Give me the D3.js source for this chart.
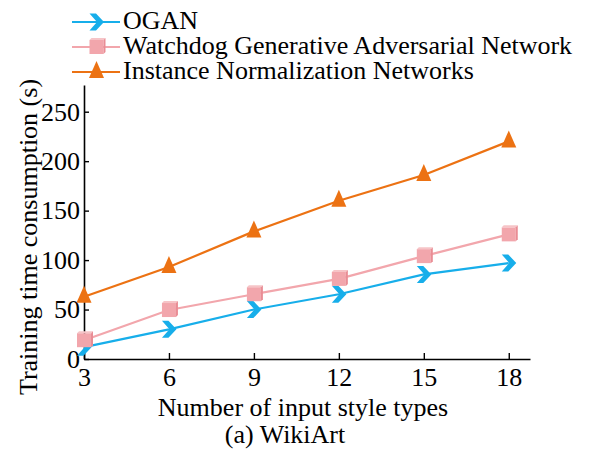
<!DOCTYPE html>
<html>
<head>
<meta charset="utf-8">
<script src="https://cdn.jsdelivr.net/npm/d3@7"></script>
<style>
  html, body { margin: 0; padding: 0; background: #fff; }
  svg { display: block; }
  text { font-family: "Liberation Serif", "Times New Roman", serif; fill: #000; }
</style>
</head>
<body>
<svg id="chart" width="590" height="455"></svg>
<script>
// Number of input style types
const styleTypes = [3, 6, 9, 12, 15, 18];

// Training time (s) per method
const oganTime      = [12, 30, 50, 65.5, 85.5, 97];
const watchdogTime  = [19, 49.5, 65.5, 81, 104, 126];
const instNormTime  = [63, 93, 129, 160, 186, 220];

const yTickValues = [0, 50, 100, 150, 200, 250];

const seriesNames = [
  "OGAN",
  "Watchdog Generative Adversarial Network",
  "Instance Normalization Networks"
];

const series = [
  { name: seriesNames[0], values: oganTime,     color: "#17aeea", marker: "chevron" },
  { name: seriesNames[1], values: watchdogTime, color: "#f2a6ac", marker: "square" },
  { name: seriesNames[2], values: instNormTime, color: "#ec7213", marker: "triangle" }
];

const svg = d3.select("#chart");
const FONT = 26;

const x = d3.scaleLinear().domain([3, 18.75]).range([84, 530]);
const y = d3.scaleLinear().domain([0, 277]).range([359, 85]);

// axes, ticks pointing into the plot
const xAxis = d3.axisBottom(x).tickValues(styleTypes).tickSizeInner(-6).tickSizeOuter(0).tickPadding(9);
const yAxis = d3.axisLeft(y).tickValues(yTickValues).tickSizeInner(-5).tickSizeOuter(0).tickPadding(4);

const gx = svg.append("g").attr("transform", `translate(0,${y(0)})`).call(xAxis);
const gy = svg.append("g").attr("transform", `translate(${x(3)},0)`).call(yAxis);
[gx, gy].forEach(g => {
  g.select(".domain").attr("stroke", "#000").attr("stroke-width", 1.6);
  g.selectAll(".tick line").attr("stroke", "#000").attr("stroke-width", 1.4);
  g.selectAll(".tick text").attr("font-size", FONT).attr("font-family", "Liberation Serif, Times New Roman, serif").attr("fill", "#000");
});

// marker shapes
function drawMarker(g, kind, color) {
  if (kind === "chevron") {
    g.append("path")
      .attr("d", "M-7,-8.5 L-0.5,-8.5 L7.5,0 L-0.5,8.5 L-7,8.5 L0.5,0 Z")
      .attr("fill", color);
  } else if (kind === "square") {
    g.append("rect").attr("x", -7).attr("y", -7).attr("width", 14).attr("height", 14).attr("fill", color);
    g.append("path").attr("d", "M-7,-7 L-5,-9 L9,-9 L7,-7 Z").attr("fill", "#f6c4c7");
    g.append("path").attr("d", "M7,-7 L9,-9 L9,5 L7,7 Z").attr("fill", "#e98d95");
  } else {
    g.append("path")
      .attr("d", "M0,-11 L7.5,6 L-7.5,6 Z")
      .attr("fill", color);
  }
}

const line = d3.line().x(d => x(d[0])).y(d => y(d[1]));

series.forEach(s => {
  const pts = styleTypes.map((t, i) => [t, s.values[i]]);
  svg.append("path")
    .datum(pts)
    .attr("d", line)
    .attr("fill", "none")
    .attr("stroke", s.color)
    .attr("stroke-width", 2.2);
  pts.forEach(p => {
    const g = svg.append("g").attr("transform", `translate(${x(p[0])},${y(p[1])})`);
    drawMarker(g, s.marker, s.color);
  });
});

// legend
const legendRows = [22, 47, 72];
series.forEach((s, i) => {
  const ly = legendRows[i];
  svg.append("line")
    .attr("x1", 72).attr("x2", 120).attr("y1", ly).attr("y2", ly)
    .attr("stroke", s.color).attr("stroke-width", 2.2);
  drawMarker(svg.append("g").attr("transform", `translate(96.5,${ly})`), s.marker, s.color);
  svg.append("text")
    .attr("x", 123).attr("y", ly + 7)
    .attr("font-size", FONT)
    .text(s.name);
});

// axis titles
svg.append("text")
  .attr("x", 303).attr("y", 416)
  .attr("text-anchor", "middle")
  .attr("font-size", FONT)
  .text("Number of input style types");

svg.append("text")
  .attr("transform", "translate(37,237) rotate(-90)")
  .attr("text-anchor", "middle")
  .attr("font-size", FONT)
  .text("Training time consumption (s)");

svg.append("text")
  .attr("x", 285).attr("y", 443)
  .attr("text-anchor", "middle")
  .attr("font-size", FONT)
  .text("(a) WikiArt");
</script>
</body>
</html>
